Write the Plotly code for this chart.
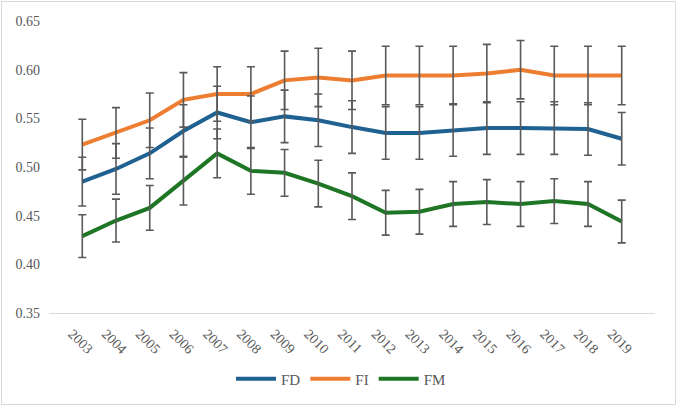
import plotly.graph_objects as go

years = [str(y) for y in range(2003, 2020)]

fd = [0.485, 0.498, 0.514, 0.537, 0.556, 0.546, 0.552, 0.548, 0.541, 0.535, 0.535, 0.538, 0.540, 0.540, 0.540, 0.539, 0.529]
fi = [0.523, 0.535, 0.548, 0.569, 0.575, 0.575, 0.589, 0.592, 0.589, 0.594, 0.594, 0.594, 0.596, 0.600, 0.594, 0.594, 0.594]
fm = [0.429, 0.445, 0.458, 0.486, 0.514, 0.496, 0.494, 0.483, 0.470, 0.453, 0.454, 0.462, 0.464, 0.462, 0.465, 0.462, 0.444]

fd_err = [0.025, 0.026, 0.026, 0.027, 0.027, 0.027, 0.027, 0.027, 0.027, 0.027, 0.027, 0.027, 0.027, 0.027, 0.027, 0.027, 0.027]
fi_err = [0.026, 0.026, 0.028, 0.028, 0.028, 0.028, 0.030, 0.030, 0.030, 0.030, 0.030, 0.030, 0.030, 0.030, 0.030, 0.030, 0.030]
fm_err = [0.022, 0.022, 0.023, 0.025, 0.025, 0.024, 0.024, 0.024, 0.024, 0.023, 0.023, 0.023, 0.023, 0.023, 0.023, 0.023, 0.022]

names = ["FD", "FI", "FM"]
colors = ["#1F6190", "#ED7D31", "#1E7625"]
series = [fd, fi, fm]
errors = [fd_err, fi_err, fm_err]

FONT = "'Liberation Serif', 'Times New Roman', serif"
TXT = "#595959"

fig = go.Figure()
for n, c, s in zip(names, colors, series):
    fig.add_trace(go.Scatter(
        x=years, y=s, name=n, mode="lines",
        line=dict(color=c, width=4),
    ))
for n, s, e in zip(names, series, errors):
    fig.add_trace(go.Scatter(
        x=years, y=s, mode="markers", showlegend=False, hoverinfo="skip",
        marker=dict(size=1, opacity=0),
        error_y=dict(type="data", array=e, visible=True,
                     color="#595959", thickness=1.6, width=4),
    ))

L, R, T, B = 49, 23, 21, 94
W, H = 678, 407
pw, ph = W - L - R, H - T - B

fig.add_shape(type="rect", xref="paper", yref="paper",
              x0=(1.5 - L) / pw, x1=(W - 2.5 - L) / pw,
              y0=(T + ph - (H - 2.5)) / ph,
              y1=(T + ph - 1.5) / ph,
              line=dict(color="#D9D9D9", width=1), layer="below")

fig.update_layout(
    width=W, height=H,
    margin=dict(l=L, r=R, t=T, b=B),
    paper_bgcolor="white", plot_bgcolor="white",
    font=dict(family=FONT, size=13, color=TXT),
    legend=dict(orientation="h", x=(341 - L) / pw, xanchor="center", y=(T + ph - 379) / ph,
                yanchor="middle", font=dict(family=FONT, size=15, color=TXT),
                itemwidth=40, tracegroupgap=0),
    showlegend=True,
)
fig.update_xaxes(type="category", tickangle=45, showgrid=False, showline=True,
                 linecolor="#D9D9D9", linewidth=1.3, ticks="",
                 ticklabelshift=-10, ticklabelstandoff=6,
                 tickfont=dict(family=FONT, size=14, color=TXT))
fig.update_yaxes(range=[0.35, 0.65], dtick=0.05, tickformat=".2f", showgrid=False,
                 zeroline=False, showline=False, ticks="", ticklabelstandoff=8,
                 tickfont=dict(family=FONT, size=14, color=TXT))

fig.write_html("out.html")
